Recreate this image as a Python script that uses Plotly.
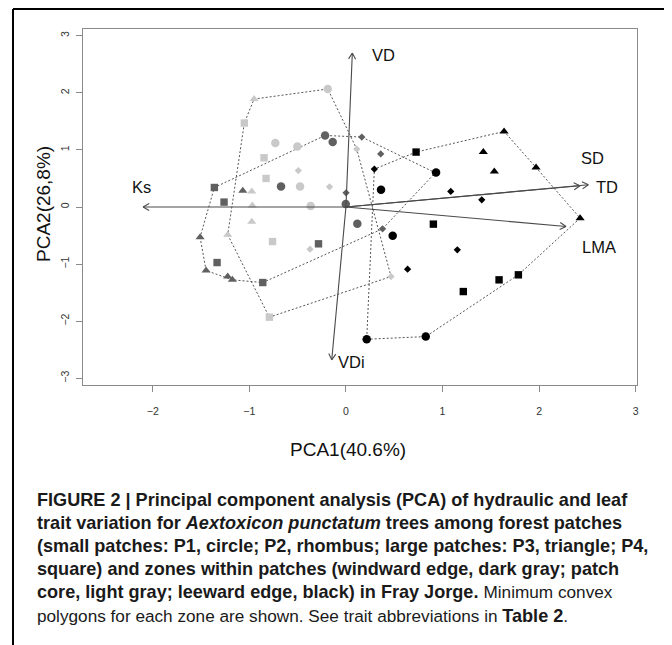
import numpy as np
import plotly.graph_objects as go

# ---------------- data ----------------
patch_order = ["P1", "P1", "P1", "P1", "P1",
               "P2", "P2", "P2", "P2", "P2",
               "P3", "P3", "P3", "P3", "P3",
               "P4", "P4", "P4", "P4", "P4"]

# windward edge (dark gray)
windward_pc1 = [-0.216, -0.137, -0.672, -0.002, 0.118,
                0.164, 0.360, 0.001, 0.379, 0.925,
                -1.068, -1.510, -1.448, -1.224, -1.176,
                -1.362, -1.262, -0.284, -1.334, -0.861]
windward_pc2 = [1.253, 1.138, 0.359, 0.051, -0.294,
                1.225, 0.929, 0.249, -0.382, 0.600,
                0.284, -0.528, -1.113, -1.218, -1.276,
                0.342, 0.086, -0.645, -0.973, -1.323]

# patch core (light gray)
core_pc1 = [-0.188, -0.731, -0.503, -0.475, -0.365,
            0.112, -0.493, -0.170, -0.372, 0.467,
            -0.951, -0.975, -0.969, -0.975, -1.224,
            -1.052, -0.848, -0.827, -0.760, -0.793]
core_pc2 = [2.067, 1.120, 1.060, 0.359, 0.016,
            1.015, 0.638, 0.354, -0.738, -1.218,
            1.891, 0.272, 0.026, -0.259, -0.487,
            1.471, 0.862, 0.500, -0.605, -1.930]

# leeward edge (black)
leeward_pc1 = [0.363, 0.484, 0.933, 0.215, 0.826,
               0.294, 1.085, 1.406, 1.153, 0.638,
               1.637, 1.422, 1.536, 1.968, 2.424,
               0.726, 0.905, 1.785, 1.585, 1.215]
leeward_pc2 = [0.301, -0.505, 0.605, -2.316, -2.270,
               0.664, 0.272, 0.126, -0.750, -1.089,
               1.323, 0.962, 0.622, 0.692, -0.195,
               0.962, -0.300, -1.188, -1.276, -1.481]

# trait loadings (arrow tips)
traits = ["Ks", "VD", "VDi", "SD", "TD", "LMA"]
load_pc1 = [-2.10, 0.066, -0.147, 2.423, 2.509, 2.278]
load_pc2 = [0.0, 2.698, -2.678, 0.372, 0.389, -0.342]

x_ticks = [-2, -1, 0, 1, 2, 3]
y_ticks = [-3, -2, -1, 0, 1, 2, 3]

# ---------------- styles / layout geometry ----------------
OFF = 8                      # page body margin
W, H = 672 - OFF, 645 - OFF  # figure size so that it fills the window
PLOT_L, PLOT_R, PLOT_T, PLOT_B = 83, 637, 29, 385   # page pixels
XR = [-2.722, 3.013]
YR = [-3.118, 3.118]
SX = (PLOT_R - PLOT_L) / (XR[1] - XR[0])
SY = (PLOT_B - PLOT_T) / (YR[1] - YR[0])


def xp(px):
    return (px - OFF) / W


def yp(py):
    return 1 - (py - OFF) / H


symbols = {"P1": "circle", "P2": "diamond", "P3": "triangle-up", "P4": "square"}
sizes = {"P1": 8.5, "P2": 5.6, "P3": 8, "P4": 7.4}
zones = [
    ("windward edge", windward_pc1, windward_pc2, "#606060"),
    ("patch core", core_pc1, core_pc2, "#c9c9c9"),
    ("leeward edge", leeward_pc1, leeward_pc2, "#000000"),
]
# label offsets in pixels (dx right, dy up) relative to arrow tips
label_off = {"Ks": (-2, 20), "VD": (31, -2), "VDi": (20, -2),
             "SD": (12, 28), "TD": (19, -2), "LMA": (33, -20)}


def hull(xs, ys):
    pts = sorted(set(zip(xs, ys)))

    def cross(o, a, b):
        return (a[0] - o[0]) * (b[1] - o[1]) - (a[1] - o[1]) * (b[0] - o[0])
    lower, upper = [], []
    for p in pts:
        while len(lower) >= 2 and cross(lower[-2], lower[-1], p) <= 0:
            lower.pop()
        lower.append(p)
    for p in reversed(pts):
        while len(upper) >= 2 and cross(upper[-2], upper[-1], p) <= 0:
            upper.pop()
        upper.append(p)
    h = lower[:-1] + upper[:-1]
    h.append(h[0])
    return [p[0] for p in h], [p[1] for p in h]


fig = go.Figure()

# convex hulls
for name, xs, ys, col in zones:
    hx, hy = hull(xs, ys)
    fig.add_trace(go.Scatter(x=hx, y=hy, mode="lines",
                             line=dict(color="#555555", width=1, dash="2px,2px"),
                             hoverinfo="skip", showlegend=False))

# points
for name, xs, ys, col in zones:
    for p in ["P1", "P2", "P3", "P4"]:
        idx = [i for i, q in enumerate(patch_order) if q == p]
        fig.add_trace(go.Scatter(
            x=[xs[i] for i in idx], y=[ys[i] for i in idx], mode="markers",
            marker=dict(symbol=symbols[p], size=sizes[p], color=col,
                        line=dict(width=0)),
            name=f"{name} {p}", showlegend=False))

# arrows
HEAD = 7.0
ax_, ay_ = [], []
for x, y in zip(load_pc1, load_pc2):
    px, py = x * SX, y * SY
    Lp = np.hypot(px, py)
    ux, uy = px / Lp, py / Lp
    ax_ += [0, x, None]
    ay_ += [0, y, None]
    for ang in (np.pi / 6, -np.pi / 6):
        c, s = np.cos(ang), np.sin(ang)
        bx = -(ux * c - uy * s) * HEAD
        by = -(ux * s + uy * c) * HEAD
        ax_ += [x + bx / SX, x, None]
        ay_ += [y + by / SY, y, None]
fig.add_trace(go.Scatter(x=ax_, y=ay_, mode="lines",
                         line=dict(color="#4a4a4a", width=1.1),
                         hoverinfo="skip", showlegend=False))

annotations = []
for t, x, y in zip(traits, load_pc1, load_pc2):
    dx, dy = label_off[t]
    annotations.append(dict(x=x, y=y, xref="x", yref="y", text=t, showarrow=False,
                            xanchor="center", yanchor="middle",
                            xshift=dx, yshift=dy,
                            font=dict(size=16.5, color="#111111",
                                      family="Liberation Sans, Arial")))

# axis titles
annotations.append(dict(x=xp(348), y=yp(449), xref="paper",
                        yref="paper", xanchor="center", yanchor="middle",
                        text="PCA1(40.6%)", showarrow=False,
                        font=dict(size=19, color="#111111")))
annotations.append(dict(x=xp(43), y=yp(204), xref="paper",
                        yref="paper", xanchor="center", yanchor="middle",
                        text="PCA2(26,8%)", showarrow=False, textangle=-90,
                        font=dict(size=19, color="#111111")))

# caption
REG = '<span style="font-size:17.2px">'
caption_lines = [
    "<b>FIGURE 2 | Principal component analysis (PCA) of hydraulic and leaf</b>",
    "<b>trait variation for <i>Aextoxicon punctatum</i> trees among forest patches</b>",
    "<b>(small patches: P1, circle; P2, rhombus; large patches: P3, triangle; P4,</b>",
    "<b>square) and zones within patches (windward edge, dark gray; patch</b>",
    "<b>core, light gray; leeward edge, black) in Fray Jorge.</b> " + REG + "Minimum convex</span>",
    REG + "polygons for each zone are shown. See trait abbreviations in </span><b>Table 2</b>" + REG + ".</span>",
]
for k, line in enumerate(caption_lines):
    annotations.append(dict(x=xp(35), y=yp(500 + 23.1 * k),
                            xref="paper", yref="paper", xanchor="left",
                            yanchor="middle", text=line, showarrow=False,
                            font=dict(size=18.1, color="#1a1a1a",
                                      family="Liberation Sans, Arial")))

frame = dict(xref="paper", yref="paper", line=dict(color="#000000", width=2),
             layer="above")
shapes = [
    dict(type="line", x0=xp(13), x1=xp(13), y0=yp(9), y1=yp(700), **frame),
    dict(type="line", x0=xp(13), x1=xp(668), y0=yp(9), y1=yp(9), **frame),
    dict(type="line", x0=xp(668), x1=xp(668), y0=yp(9), y1=yp(700), **frame),
]

axis_common = dict(showgrid=False, zeroline=False, showline=True, mirror=True,
                   linecolor="#8a8a8a", linewidth=1, ticks="outside", ticklen=6,
                   tickcolor="#8a8a8a", tickwidth=1, automargin=False,
                   tickfont=dict(size=10.5, color="#333333",
                                 family="Liberation Sans, Arial"))

fig.update_layout(
    width=W, height=H,
    margin=dict(l=0, r=0, t=0, b=0, pad=0, autoexpand=False),
    paper_bgcolor="white", plot_bgcolor="white",
    font=dict(family="Liberation Sans, Arial", color="#111111"),
    xaxis=dict(range=XR, tickvals=x_ticks, ticklabelstandoff=10,
               domain=[xp(PLOT_L), xp(PLOT_R)], **axis_common),
    yaxis=dict(range=YR, tickvals=y_ticks, tickangle=-90, ticklabelstandoff=3,
               domain=[yp(PLOT_B), yp(PLOT_T)], **axis_common),
    annotations=annotations, shapes=shapes, showlegend=False,
)

fig.write_html("out.html")
